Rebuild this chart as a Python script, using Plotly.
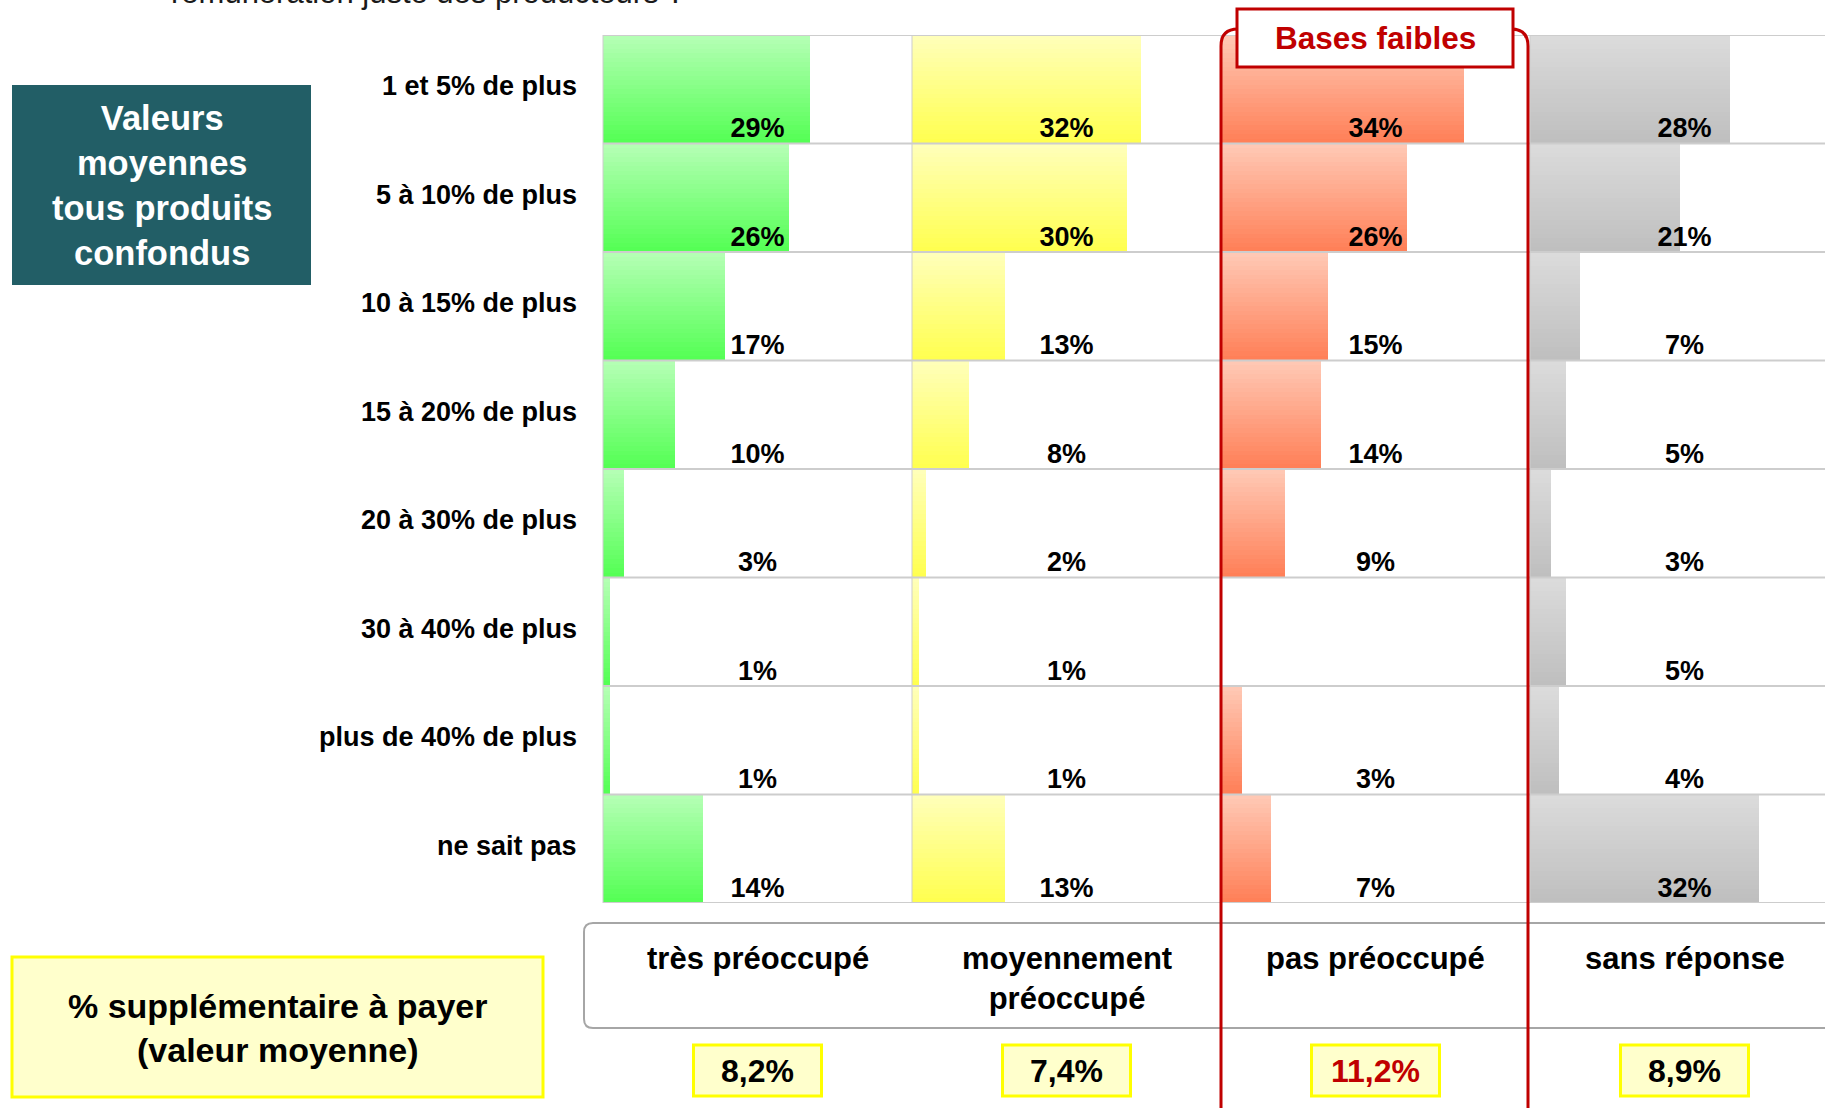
import plotly.graph_objects as go

# ---------------- data ----------------
rows = ["1 et 5% de plus", "5 à 10% de plus", "10 à 15% de plus", "15 à 20% de plus",
        "20 à 30% de plus", "30 à 40% de plus", "plus de 40% de plus", "ne sait pas"]
groups = ["très préoccupé", "moyennement<br>préoccupé", "pas préoccupé", "sans réponse"]
tres_preoccupe = [29, 26, 17, 10, 3, 1, 1, 14]
moyennement_preoccupe = [32, 30, 13, 8, 2, 1, 1, 13]
pas_preoccupe = [34, 26, 15, 14, 9, None, 3, 7]
sans_reponse = [28, 21, 7, 5, 3, 5, 4, 32]
valeurs_moyennes = ["8,2%", "7,4%", "11,2%", "8,9%"]
series = [tres_preoccupe, moyennement_preoccupe, pas_preoccupe, sans_reponse]

# ---------------- styling ----------------
W, H = 1825, 1108
FONT = "Liberation Sans, Arial, Helvetica, sans-serif"
grad = [((180, 255, 180), (85, 255, 85)),      # green
        ((255, 255, 185), (255, 255, 80)),     # yellow
        ((255, 200, 180), (255, 128, 88)),     # salmon
        ((219, 219, 219), (191, 191, 191))]    # gray
avg_colors = ["black", "black", "#C00000", "black"]

GRID_TOP, GRID_BOT = 35, 903
COL_LEFT = [603, 912, 1221, 1530]
COL_W = 309
FULL = 43.2          # % represented by a full column width
NSTRIP = 24

def X(px):
    return px / W

def Y(py):
    return 1 - py / H

def mix(c0, c1, t):
    return "rgb(%d,%d,%d)" % tuple(round(a + (b - a) * t) for a, b in zip(c0, c1))

fig = go.Figure()
ypos = list(range(len(rows)))

layout_axes = {}
for i, vals in enumerate(series):
    left = COL_LEFT[i]
    right = min(left + COL_W, W)
    rng = FULL * (right - left) / COL_W
    axname = "xaxis" if i == 0 else "xaxis%d" % (i + 1)
    xref = "x" if i == 0 else "x%d" % (i + 1)
    layout_axes[axname] = dict(domain=[X(left), X(right)], range=[0, rng], visible=False,
                               fixedrange=True, anchor="y")
    xs = [v if v is not None else 0 for v in vals]
    for k in range(NSTRIP):
        t = k / (NSTRIP - 1)
        fig.add_trace(go.Bar(
            x=xs, y=ypos, orientation="h", xaxis=xref, yaxis="y",
            width=1.0 / NSTRIP * 1.08, offset=-0.5 + k / NSTRIP,
            marker=dict(color=mix(grad[i][0], grad[i][1], t), line=dict(width=0)),
            hoverinfo="skip", showlegend=False))
    lab_x = [FULL / 2 for v in vals if v is not None]
    lab_y = [r + 0.38 for r, v in zip(ypos, vals) if v is not None]
    lab_t = ["<b>%d%%</b>" % v for v in vals if v is not None]
    fig.add_trace(go.Scatter(
        x=lab_x, y=lab_y, text=lab_t, mode="text", xaxis=xref, yaxis="y",
        textposition="middle center", cliponaxis=False,
        textfont=dict(family=FONT, size=27, color="black"),
        hoverinfo="skip", showlegend=False))

shapes = []
# horizontal grid lines
for b in range(len(rows) + 1):
    shapes.append(dict(type="line", xref="paper", yref="y", x0=X(COL_LEFT[0]), x1=1,
                       y0=b - 0.5, y1=b - 0.5, line=dict(color="#CDCDCD", width=2), layer="above"))
# vertical column separators
for left in COL_LEFT:
    shapes.append(dict(type="line", xref="paper", yref="paper", x0=X(left), x1=X(left),
                       y0=Y(GRID_TOP), y1=Y(GRID_BOT), line=dict(color="#CDCDCD", width=1),
                       layer="above"))

# teal box
shapes.append(dict(type="rect", xref="paper", yref="paper", x0=X(12), x1=X(311), y0=Y(85), y1=Y(285),
                   fillcolor="#225E66", line=dict(width=0), layer="above"))
# bottom-left yellow box
shapes.append(dict(type="rect", xref="paper", yref="paper", x0=X(12), x1=X(543), y0=Y(957), y1=Y(1097),
                   fillcolor="#FFFFCC", line=dict(color="#FFFF00", width=3), layer="above"))
# header box (rounded left corners, extends past right edge)
r = 9
p = (f"M {X(1900)},{Y(923)} L {X(584 + r)},{Y(923)} Q {X(584)},{Y(923)} {X(584)},{Y(923 + r)} "
     f"L {X(584)},{Y(1028 - r)} Q {X(584)},{Y(1028)} {X(584 + r)},{Y(1028)} L {X(1900)},{Y(1028)}")
shapes.append(dict(type="path", xref="paper", yref="paper", path=p,
                   line=dict(color="#A6A6A6", width=2), layer="above"))
# average value boxes
for i in range(4):
    cx = COL_LEFT[i] + COL_W / 2
    shapes.append(dict(type="rect", xref="paper", yref="paper", x0=X(cx - 64), x1=X(cx + 64),
                       y0=Y(1045), y1=Y(1096), fillcolor="#FFFFCC",
                       line=dict(color="#FFFF00", width=3), layer="above"))
# red rounded frame around "pas préoccupé"
r = 17
p = (f"M {X(1221)},{Y(1160)} L {X(1221)},{Y(29 + r)} Q {X(1221)},{Y(29)} {X(1221 + r)},{Y(29)} "
     f"L {X(1528 - r)},{Y(29)} Q {X(1528)},{Y(29)} {X(1528)},{Y(29 + r)} L {X(1528)},{Y(1160)}")
shapes.append(dict(type="path", xref="paper", yref="paper", path=p,
                   line=dict(color="#C00000", width=3), layer="above"))
# "Bases faibles" box
shapes.append(dict(type="rect", xref="paper", yref="paper", x0=X(1237), x1=X(1513), y0=Y(9), y1=Y(67),
                   fillcolor="white", line=dict(color="#C00000", width=3), layer="above"))

annotations = []
# truncated title line (cut by the top edge, as in the source slide)
annotations.append(dict(xref="paper", yref="paper", x=X(169), y=Y(-7), xanchor="left", yanchor="middle",
                        text="rémunération juste des producteurs ?", showarrow=False,
                        font=dict(family=FONT, size=31, color="#1A1A1A")))
# row labels
for rix, lab in enumerate(rows):
    annotations.append(dict(xref="paper", yref="y", x=X(579), y=rix - 0.03, xanchor="right",
                            yanchor="middle", text="<b>%s</b>" % lab, showarrow=False,
                            font=dict(family=FONT, size=27, color="black")))
# teal box text
annotations.append(dict(xref="paper", yref="paper", x=X(162), y=Y(185), xanchor="center", yanchor="middle",
                        text="<b>Valeurs<br>moyennes<br>tous produits<br>confondus</b>", showarrow=False,
                        font=dict(family=FONT, size=34.5, color="white")))
# bottom-left text
annotations.append(dict(xref="paper", yref="paper", x=X(278), y=Y(1028), xanchor="center", yanchor="middle",
                        text="<b>% supplémentaire à payer<br>(valeur moyenne)</b>", showarrow=False,
                        font=dict(family=FONT, size=34, color="black")))
# group headers and averages
for i, g in enumerate(groups):
    cx = COL_LEFT[i] + COL_W / 2
    annotations.append(dict(xref="paper", yref="paper", x=X(cx), y=Y(939), xanchor="center", yanchor="top",
                            text="<b>%s</b>" % g, showarrow=False,
                            font=dict(family=FONT, size=31, color="black")))
    annotations.append(dict(xref="paper", yref="paper", x=X(cx), y=Y(1071), xanchor="center",
                            yanchor="middle", text="<b>%s</b>" % valeurs_moyennes[i], showarrow=False,
                            font=dict(family=FONT, size=32, color=avg_colors[i])))
# Bases faibles text
annotations.append(dict(xref="paper", yref="paper", x=X(1375), y=Y(38), xanchor="center", yanchor="middle",
                        text="<b>Bases faibles</b>", showarrow=False,
                        font=dict(family=FONT, size=31.5, color="#C00000")))

fig.update_layout(
    width=W, height=H, margin=dict(l=0, r=0, t=0, b=0),
    paper_bgcolor="white", plot_bgcolor="white", barmode="overlay", bargap=0,
    showlegend=False, shapes=shapes, annotations=annotations,
    yaxis=dict(domain=[Y(GRID_BOT), Y(GRID_TOP)], range=[len(rows) - 0.5, -0.5],
               visible=False, fixedrange=True),
    **layout_axes)

fig.write_html("out.html", config={"displayModeBar": False},
               post_script="document.body.style.margin='0px';document.body.style.overflow='hidden';")
